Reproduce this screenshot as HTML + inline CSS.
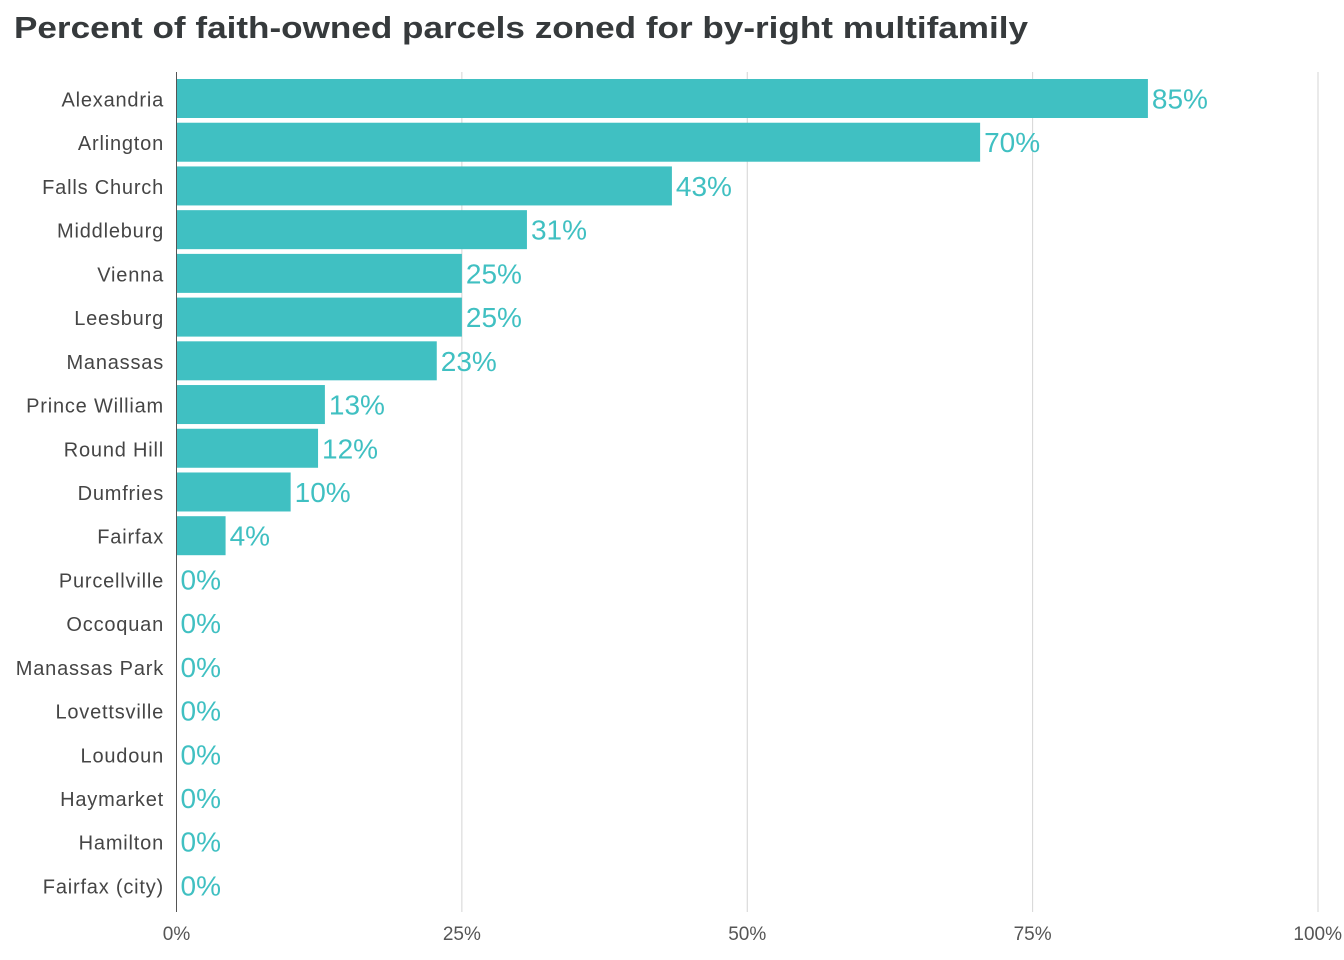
<!DOCTYPE html>
<html><head><meta charset="utf-8">
<style>
html,body{margin:0;padding:0;background:#fff;}
svg{display:block;font-family:"Liberation Sans",sans-serif;}
</style></head>
<body>
<svg id="chart" width="1344" height="960" viewBox="0 0 1344 960" xmlns="http://www.w3.org/2000/svg">
<text x="14" y="38" font-size="31" font-weight="bold" fill="#363a3c" textLength="1014" lengthAdjust="spacingAndGlyphs">Percent of faith-owned parcels zoned for by-right multifamily</text>
<g id="grid"></g>
<g id="bars"></g>
<g id="labels"></g>
<line x1="176.5" y1="72" x2="176.5" y2="912" stroke="#555" stroke-width="1"/>
</svg>
<script>
const categories = ["Alexandria","Arlington","Falls Church","Middleburg","Vienna","Leesburg","Manassas","Prince William","Round Hill","Dumfries","Fairfax","Purcellville","Occoquan","Manassas Park","Lovettsville","Loudoun","Haymarket","Hamilton","Fairfax (city)"];
const values = [85.1,70.4,43.4,30.7,25.0,25.0,22.8,13.0,12.4,10.0,4.3,0,0,0,0,0,0,0,0];
const valueLabels = ["85%","70%","43%","31%","25%","25%","23%","13%","12%","10%","4%","0%","0%","0%","0%","0%","0%","0%","0%"];
const ticks = [0,25,50,75,100];
const tickLabels = ["0%","25%","50%","75%","100%"];

const NS = "http://www.w3.org/2000/svg";
const x0 = 176.5, x1 = 1318;
const xs = v => x0 + (x1 - x0) * v / 100;
const rowTop = 79, rowStep = 43.72, barH = 39;
const yc = i => rowTop + barH/2 + i*rowStep;
function mk(tag, attrs, parent){const e=document.createElementNS(NS,tag);for(const k in attrs)e.setAttribute(k,attrs[k]);parent.appendChild(e);return e;}

const grid=document.getElementById('grid'), bars=document.getElementById('bars'), labels=document.getElementById('labels');
ticks.forEach((t,i)=>{
  if(t>0){
    const l=mk('line',{x1:xs(t),x2:xs(t),y1:72,y2:912,stroke:'#d4d4d4','stroke-width':1},grid);
    
    
  }
  const tx=mk('text',{x:t===100?1342:xs(t),y:940,'font-size':19,fill:'#555','text-anchor':t===100?'end':'middle'},labels);
  tx.textContent=tickLabels[i];
  
  
});
categories.forEach((c,i)=>{
  const cy=yc(i);
  const lab=mk('text',{x:164,y:cy+8,'font-size':20,'letter-spacing':0.8,fill:'#454545','text-anchor':'end'},labels);
  lab.textContent=c;
  
  
  const w=xs(values[i])-x0-0.5;
  if(w>0){
    const r=mk('rect',{x:x0+0.5,y:cy-barH/2,width:w,height:barH,fill:'#40c0c2'},bars);
    
    
  }
  const v=mk('text',{x:xs(values[i])+4,y:cy+10,'font-size':28,fill:'#40c0c2'},labels);
  v.textContent=valueLabels[i];
  
  
});
</script>
</body></html>
